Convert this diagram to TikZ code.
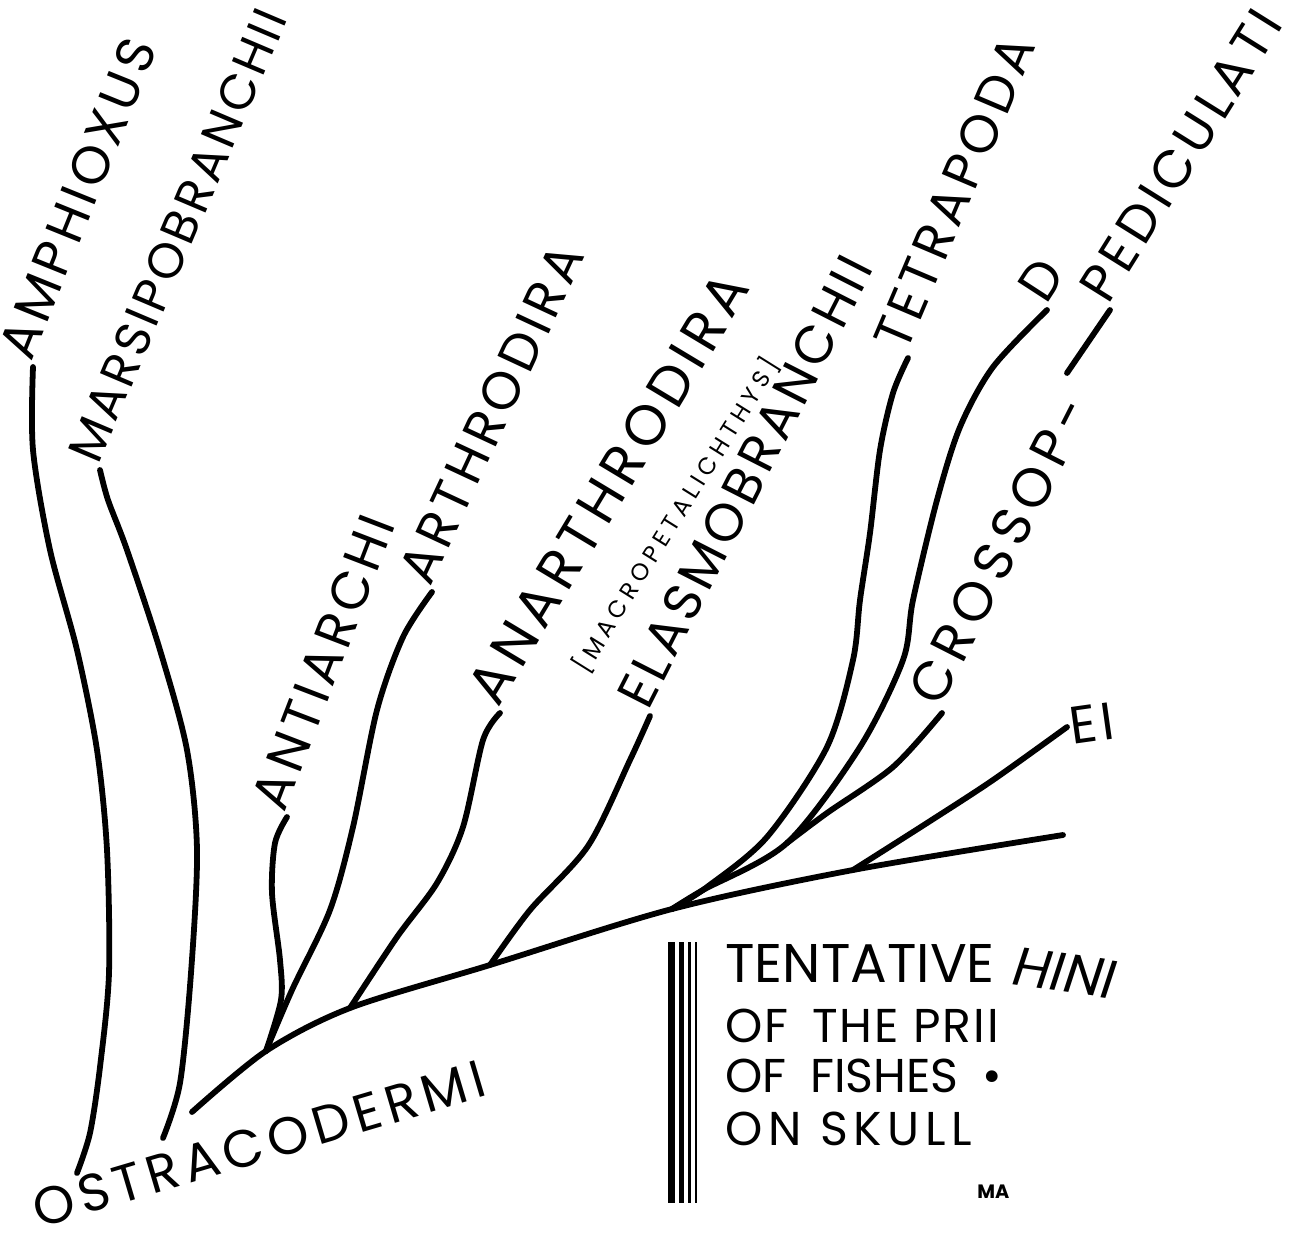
\documentclass[tikz,border=0pt]{standalone}
\usepackage{fontspec}
\setmainfont{Poppins}
% size, letter spacing
\newcommand\lblfont[2]{\addfontfeatures{LetterSpace=#2}\fontsize{#1}{#1}\selectfont}
\tikzset{
  br/.style={line width=3.3pt, line cap=round, line join=round},
  % branch label, turned along the branch tip
  lbl/.style={font=\lblfont{30}{9}, inner sep=1.5pt, anchor=south west},
  sub/.style={font=\lblfont{13.5}{22}, inner sep=0pt},
  % title lines
  ttl/.style={font=\lblfont{27}{4}, inner sep=0pt, anchor=base west},
  bar/.style={fill=black}
}
\begin{document}
\begin{tikzpicture}[x=0.02cm, y=-0.02cm]
  \useasboundingbox (0,0) rectangle (1314,1247);
  % trunk and free ends
  \coordinate (root) at (192,1112);
  \coordinate (j1) at (266,1051);
  \coordinate (j2) at (350,1008);
  \coordinate (j3) at (490,965);
  \coordinate (j4) at (672,909);
  \coordinate (j5) at (853,870);
  \coordinate (j6) at (787,843);
  \coordinate (tend) at (1063,835);
  \coordinate (amphend) at (77,1173);
  \coordinate (marsend) at (163,1138);
  \coordinate (pedend) at (1067,373);

  \node[lbl, rotate=68] (amph) at (33,367) {AMPHIOXUS};
  \node[lbl, rotate=67, font=\lblfont{28}{7}] (mars) at (100,470) {MARSIPOBRANCHII};
  \node[lbl, rotate=69] (anti) at (287,817) {ANTIARCHI};
  \node[lbl, rotate=65] (arth) at (432,592) {ARTHRODIRA};
  \node[lbl, rotate=59, font=\lblfont{32}{11}] (anar) at (500,713) {ANARTHRODIRA};
  \node[sub, rotate=58] (macro) at (676,515) {[MACROPETALICHTHYS]};
  \node[lbl, rotate=63, font=\lblfont{30}{8}] (elas) at (650,716) {ELASMOBRANCHII};
  \node[lbl, rotate=67] (tetr) at (908,358) {TETRAPODA};
  \node[lbl, rotate=57] (dipn) at (1047,310) {D};
  \node[lbl, rotate=63, font=\lblfont{31}{13}] (cros) at (942,713) {CROSSOP-};
  \node[lbl, rotate=8, anchor=west] (tele) at (1067,727) {EI};
  \node[lbl, rotate=58, font=\lblfont{30}{10}] (pedi) at (1110,310) {PEDICULATI};
  \node[lbl, rotate=16.5, anchor=center, font=\lblfont{30}{11}] (ostr) at (259,1144) {OSTRACODERMI};

  \draw[br] plot[smooth] coordinates {(amph.south west) (33,450) (50,550) (77,650) (97,750) (107,850) (109,973) (100,1067) (90,1133) (amphend)};
  \draw[br] plot[smooth] coordinates {(mars.south west) (108,500) (127,550) (160,650) (187,750) (197,850) (191,973) (180,1083) (marsend)};
  \draw[br] plot[smooth] coordinates {(root) (j1) (j2) (j3) (j4) (j5) (tend)};
  \draw[br] plot[smooth] coordinates {(anti.south west) (275,843) (272,893) (280,960) (281,1000) (j1)};
  \draw[br] plot[smooth] coordinates {(arth.south west) (403,637) (377,710) (353,827) (330,910) (292,990) (j1)};
  \draw[br] plot[smooth] coordinates {(anar.south west) (483,740) (463,827) (437,883) (397,937) (j2)};
  \draw[br] plot[smooth] coordinates {(elas.south west) (630,760) (588,846) (530,910) (j3)};
  \draw[br] plot[smooth] coordinates {(tetr.south west) (893,393) (880,450) (870,533) (860,600) (853,660) (827,747) (767,837) (707,887) (j4)};
  \draw[br] plot[smooth] coordinates {(dipn.south west) (993,367) (960,427) (937,500) (913,600) (903,660) (860,747) (j6) (703,890) (j4)};
  \draw[br] plot[smooth] coordinates {(cros.south west) (893,767) (827,813) (j6)};
  \draw[br] plot[smooth] coordinates {(tele.west) (993,780) (927,823) (j5)};
  \draw[br] (pedend) -- (pedi.south west);

  % title block
  \fill[bar] (668,942) rectangle (675,1203);
  \fill[bar] (679,942) rectangle (684,1203);
  \fill[bar] (688,942) rectangle (691,1203);
  \fill[bar] (695,942) rectangle (697,1203);
  \node[ttl, font=\lblfont{31}{0}] (t1) at (725,982) {TENTATIVE};
  \node[font=\itshape\fontsize{31}{34}\selectfont, rotate=-8, inner sep=0pt] (hini) at (1065,973) {HINI};
  \node[ttl] (t2) at (725,1042) {OF\enspace THE PRII};
  \node[ttl, font=\lblfont{27}{0}] (t3) at (725,1092) {OF\enspace FISHES\enspace •};
  \node[ttl, font=\lblfont{27}{12}] (t4) at (725,1145) {ON SKULL};
  \node[ttl, font=\bfseries\fontsize{11}{13}\selectfont] (ma) at (977,1198) {MA};
\end{tikzpicture}
\end{document}
